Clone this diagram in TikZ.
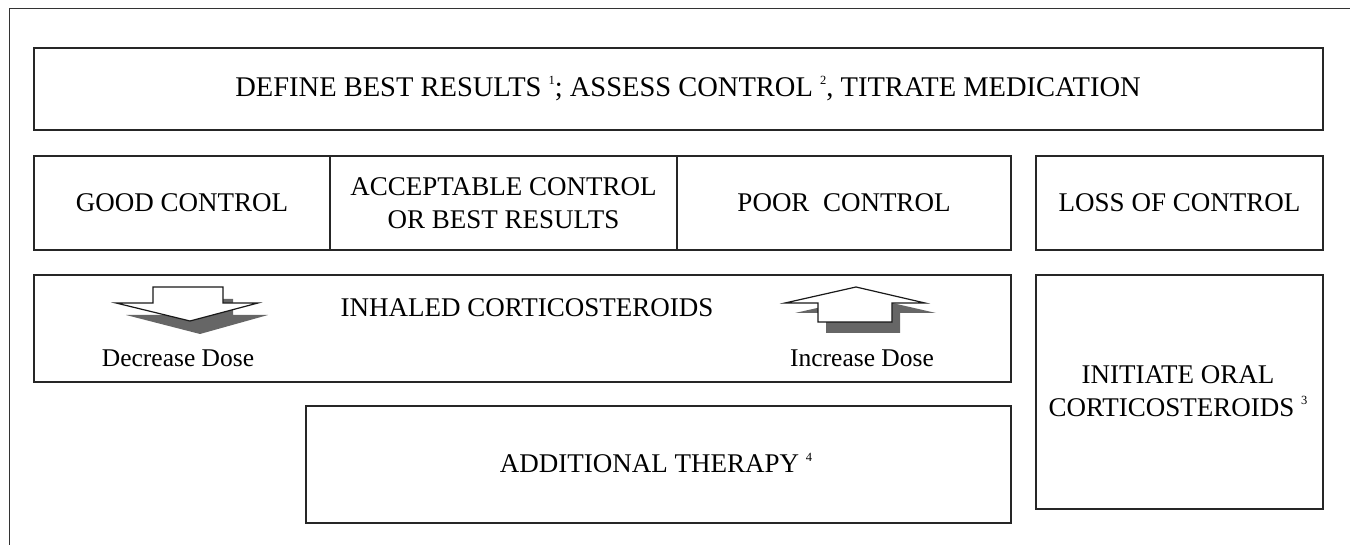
\documentclass[tikz,border=0pt]{standalone}
\usepackage{fontspec}
\setmainfont{Liberation Serif}
\newcommand{\mysup}[1]{\raisebox{0.42em}{\fontsize{12.5}{12.5}\selectfont #1}}
\begin{document}
\begin{tikzpicture}[x=1pt,y=-1pt,
  box/.style={draw=black!85, line width=2pt, inner sep=0pt, align=center,
    font=\fontsize{27}{33}\selectfont},
  txt/.style={inner sep=0pt, align=center, font=\fontsize{27}{33}\selectfont},
  dosetxt/.style={inner sep=0pt, font=\fontsize{25.5}{30}\selectfont},
  arrowface/.style={fill=white, draw=black!90, line width=1.2pt, line join=miter},
  arrowshade/.style={fill=black!60, draw=none}]
\useasboundingbox (0,0) rectangle (1350,545);
% outer frame (cropped)
\draw[line width=1pt, black!80] (9,545) -- (9,9) -- (1350,9);
% boxes
\node[box, minimum width=1289pt, minimum height=82pt] (top) at (678.5,89) {};
\node[txt, font=\fontsize{28.5}{34}\selectfont] (toptxt) at (688,89)
  {DEFINE BEST RESULTS \mysup{1}; ASSESS CONTROL \mysup{2}, TITRATE MEDICATION};
\node[box, minimum width=296pt, minimum height=94pt] (good) at (182,203) {GOOD CONTROL};
\node[box, minimum width=347pt, minimum height=94pt] (accept) at (503.5,203) {ACCEPTABLE CONTROL\\OR BEST RESULTS};
\node[box, minimum width=334pt, minimum height=94pt] (poor) at (844,203) {POOR\ \ CONTROL};
\node[box, minimum width=287pt, minimum height=94pt] (loss) at (1179.5,203) {LOSS OF CONTROL};
\node[box, minimum width=977pt, minimum height=107pt] (inhaled) at (522.5,328.5) {};
\node[box, minimum width=287pt, minimum height=234pt] (initiate) at (1179.5,392) {};
\node[txt] (inittxt) at (1178,391) {INITIATE ORAL\\CORTICOSTEROIDS \mysup{3}};
\node[box, minimum width=705pt, minimum height=117pt] (additional) at (658.5,464.5) {};
\node[txt] (addtxt) at (656,463) {ADDITIONAL THERAPY \mysup{4}};
% texts in inhaled box
\node[txt] (ics) at (527,308) {INHALED CORTICOSTEROIDS};
\node[dosetxt] (decr) at (178,358) {Decrease Dose};
\node[dosetxt] (incr) at (862,358) {Increase Dose};
% decrease arrow
\fill[arrowshade] (163,299) -- (233,299) -- (233,315) -- (268,315) -- (200,334) -- (126,315) -- (163,315) -- cycle;
\draw[arrowface] (153,287) -- (223,287) -- (223,303) -- (258,303) -- (190,321) -- (116,303) -- (153,303) -- cycle;
% increase arrow
\fill[arrowshade] (866,297) -- (936,313) -- (900,313) -- (900,333) -- (826,333) -- (826,313) -- (795,313) -- cycle;
\draw[arrowface] (856,287) -- (925,303) -- (892,303) -- (892,322) -- (818,322) -- (818,303) -- (785,303) -- cycle;
\end{tikzpicture}
\end{document}
